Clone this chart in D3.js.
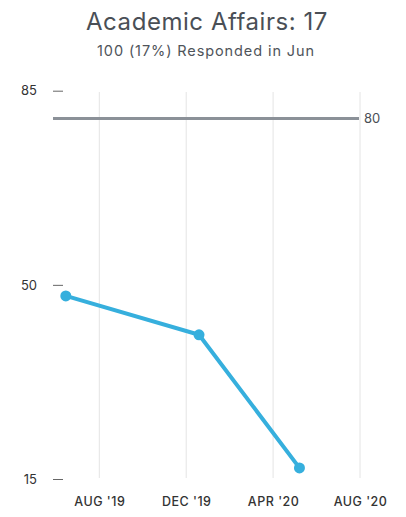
<!DOCTYPE html>
<html>
<head>
<meta charset="utf-8">
<script src="https://cdn.jsdelivr.net/npm/d3@7"></script>
<style>
  html, body { margin: 0; padding: 0; background: #fff; }
  svg { display: block; font-family: Inter, Lato, sans-serif; }
</style>
</head>
<body>
<svg id="chart" width="406" height="517"></svg>
<script>
const titleText = "Academic Affairs: 17";
const subtitleText = "100 (17%) Responded in Jun";
const dates = ["2019-06-15", "2019-12-19", "2020-05-08"];
const values = [48, 41, 17];
const yTicks = [15, 50, 85];
const xTickDates = ["2019-08-01", "2019-12-01", "2020-04-01", "2020-08-01"];
const xTickLabels = ["AUG '19", "DEC '19", "APR '20", "AUG '20"];
const targetValue = 80;
const xDomain = ["2019-05-28", "2020-08-01"];

const parse = d3.utcParse("%Y-%m-%d");
const svg = d3.select("#chart");

const x = d3.scaleUtc().domain(xDomain.map(parse)).range([53, 360]);
const y = d3.scaleLinear().domain([15, 85]).range([479, 90.7]);

// fit text to a target width via letter spacing
function fit(sel, target) {
  const n = sel.text().length;
  const w = sel.node().getComputedTextLength();
  sel.attr("letter-spacing", ((target - w) / n).toFixed(2) + "px");
}

// title
const t = svg.append("text").attr("x", 207).attr("y", 30).attr("text-anchor", "middle")
  .attr("font-size", 24).attr("font-weight", 400).attr("fill", "#4a4f56").text(titleText);
fit(t, 242);
const st = svg.append("text").attr("x", 206).attr("y", 56).attr("text-anchor", "middle")
  .attr("font-size", 14.5).attr("font-weight", 400).attr("fill", "#4f545a").text(subtitleText);
fit(st, 218);

// vertical grid lines
svg.append("g").selectAll("line").data(xTickDates).join("line")
  .attr("x1", d => x(parse(d))).attr("x2", d => x(parse(d)))
  .attr("y1", 92).attr("y2", 478)
  .attr("stroke", "#e4e4e4").attr("stroke-width", 1);

// x axis labels
const xAxis = d3.axisBottom(x)
  .tickValues(xTickDates.map(parse))
  .tickFormat((d, i) => xTickLabels[i])
  .tickSize(0).tickPadding(0);
const gx = svg.append("g").attr("transform", "translate(0,497)").call(xAxis);
gx.select(".domain").remove();
gx.selectAll("text").attr("font-size", 12.5).attr("fill", "#333")
  .attr("font-family", "Inter, sans-serif").attr("font-weight", 500)
  .attr("letter-spacing", "0.5px").attr("dy", "0.71em");

// y axis
const yAxis = d3.axisLeft(y).tickValues(yTicks).tickSize(-10).tickPadding(16);
const gy = svg.append("g").attr("transform", "translate(53,0)").call(yAxis);
gy.select(".domain").remove();
gy.selectAll(".tick line").attr("stroke", "#666").attr("stroke-width", 1);
gy.selectAll("text").attr("font-size", 13).attr("fill", "#333")
  .attr("font-family", "Inter, sans-serif");

// target line
svg.append("line")
  .attr("x1", x.range()[0]).attr("x2", x.range()[1] - 1)
  .attr("y1", y(targetValue)).attr("y2", y(targetValue))
  .attr("stroke", "#8b9198").attr("stroke-width", 3);
svg.append("text").attr("x", 364).attr("y", y(targetValue)).attr("dy", "0.35em")
  .attr("font-size", 13).attr("fill", "#4a4f56").text(targetValue);

// series
const pts = dates.map((d, i) => ({ date: parse(d), value: values[i] }));
const line = d3.line().x(d => x(d.date)).y(d => y(d.value));
svg.append("path").datum(pts).attr("d", line)
  .attr("fill", "none").attr("stroke", "#36afdd").attr("stroke-width", 4)
  .attr("stroke-linejoin", "round");
svg.append("g").selectAll("circle").data(pts).join("circle")
  .attr("cx", d => x(d.date)).attr("cy", d => y(d.value)).attr("r", 5.5)
  .attr("fill", "#36afdd");
</script>
</body>
</html>
